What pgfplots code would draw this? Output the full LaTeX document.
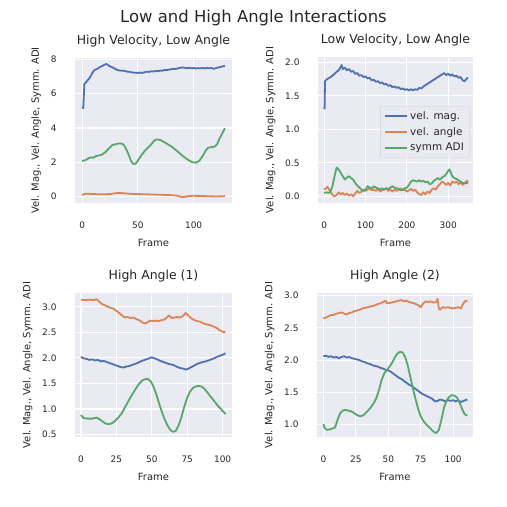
\documentclass[border=0pt]{standalone}
\usepackage{fontspec}
\setmainfont{DejaVu Sans}
\usepackage{pgfplots}
\pgfplotsset{compat=1.18}

\definecolor{sbblue}{HTML}{4C72B0}
\definecolor{sborange}{HTML}{DD8452}
\definecolor{sbgreen}{HTML}{55A868}
\definecolor{sbbg}{HTML}{EAEAF2}
\definecolor{sbtext}{HTML}{262626}

\pgfplotsset{
  sbpanel/.style={
    scale only axis, anchor=south west,
    axis background/.style={fill=sbbg},
    axis line style={draw=none},
    major tick length=0pt,
    grid=major,
    major grid style={white, line width=1.2bp},
    /pgf/number format/assume math mode=true,
    tick label style={font=\fontsize{9}{10}\selectfont, text=sbtext},
    xticklabel style={yshift=-15bp},
    yticklabel style={xshift=-15bp},
    label style={font=\fontsize{10}{12}\selectfont, text=sbtext},
    xlabel style={yshift=-4bp},
    ylabel shift=3bp,
    title style={font=\fontsize{12.5}{14}\selectfont, text=sbtext, yshift=1bp},
    xlabel={Frame},
    ylabel={Vel. Mag., Vel. Angle, Symm. ADI},
    every axis plot/.append style={line width=1.8bp, line join=round, no markers},
  },
  onedec/.style={yticklabel style={/pgf/number format/.cd, fixed, fixed zerofill, precision=1}},
}

\begin{document}
\begin{tikzpicture}
\path[use as bounding box] (0,0) rectangle (507bp,507bp);
\node[font=\fontsize{16.5}{18}\selectfont, text=sbtext] at (253.5bp,489bp) {Low and High Angle Interactions};

% ---------- High velocity, low angle ----------
\begin{axis}[sbpanel, at={(75bp,304bp)}, width=157bp, height=145bp,
  xmin=-6.4, xmax=134.4, ymin=-0.37, ymax=8.07,
  xtick={0,50,100}, ytick={0,2,4,6,8},
  title={High Velocity, Low Angle}]
\addplot[sbblue] coordinates {
(0,5.2) (1,5.15) (2,6.55) (4,6.7) (6,6.85) (8,7.05) (10,7.3) (12,7.4) (14,7.45) (16,7.55) (18,7.6) (20,7.68) (22,7.72) (24,7.62) (26,7.55) (28,7.5) (30,7.42) (32,7.36) (34,7.34) (36,7.33) (38,7.32) (40,7.28) (42,7.27) (44,7.24) (46,7.22) (48,7.21) (50,7.2) (52,7.22) (54,7.2) (56,7.24) (58,7.27) (60,7.26) (62,7.3) (64,7.28) (66,7.32) (68,7.3) (70,7.34) (72,7.33) (74,7.38) (76,7.36) (78,7.4) (80,7.42) (82,7.44) (84,7.43) (86,7.47) (88,7.5) (90,7.52) (92,7.5) (94,7.48) (96,7.5) (98,7.47) (100,7.49) (102,7.46) (104,7.48) (106,7.47) (108,7.49) (110,7.46) (112,7.5) (114,7.47) (116,7.49) (118,7.44) (120,7.48) (122,7.52) (124,7.55) (126,7.58) (128,7.62)};
\addplot[sborange] coordinates {
(0,0.1) (2,0.16) (5,0.17) (10,0.15) (15,0.14) (20,0.14) (25,0.15) (30,0.2) (33,0.22) (36,0.2) (40,0.18) (45,0.16) (50,0.15) (55,0.14) (60,0.13) (65,0.12) (70,0.11) (75,0.1) (80,0.09) (85,0.06) (88,0.0) (90,-0.03) (93,0.0) (96,0.04) (100,0.05) (105,0.04) (110,0.03) (115,0.02) (120,0.01) (125,0.02) (128,0.03)};
\addplot[sbgreen] coordinates {
(0,2.08) (3,2.12) (6,2.25) (8,2.28) (10,2.26) (12,2.35) (15,2.4) (18,2.45) (21,2.6) (24,2.8) (27,3.0) (30,3.05) (33,3.1) (36,3.08) (38,2.95) (40,2.7) (42,2.4) (44,2.05) (46,1.9) (48,1.92) (50,2.1) (53,2.4) (56,2.65) (59,2.85) (62,3.05) (65,3.28) (67,3.33) (70,3.3) (73,3.2) (76,3.08) (80,2.92) (84,2.72) (87,2.55) (90,2.38) (93,2.23) (96,2.1) (99,2.0) (102,1.98) (105,2.08) (108,2.35) (111,2.7) (113,2.85) (116,2.88) (119,2.92) (121,3.05) (123,3.35) (125,3.6) (127,3.85) (128,3.98)};
\end{axis}

% ---------- Low velocity, low angle ----------
\begin{axis}[sbpanel, onedec, at={(318bp,304bp)}, width=155bp, height=146bp,
  xmin=-15, xmax=360, ymin=-0.1, ymax=2.08,
  xtick={0,100,200,300}, ytick={0,0.5,1.0,1.5,2.0},
  title={Low Velocity, Low Angle},
  legend style={at={(0.981,0.664)}, anchor=north east, fill=sbbg, fill opacity=0.8, text opacity=1,
    draw=black!20, rounded corners=2bp, font=\fontsize{10.5}{12}\selectfont, text=sbtext,
    inner xsep=4bp, inner ysep=3bp, row sep=2.5bp},
  legend cell align=left,
  legend image code/.code={\draw[#1] (0bp,0bp) -- (22bp,0bp);}]
\addplot[sbblue] coordinates {
(0,1.3) (1,1.32) (2,1.72) (5,1.74) (10,1.76) (15,1.78) (20,1.8) (25,1.83) (30,1.86) (35,1.88) (40,1.93) (42,1.96) (45,1.9) (50,1.92) (55,1.88) (60,1.9) (65,1.86) (70,1.87) (75,1.83) (80,1.84) (85,1.8) (90,1.81) (95,1.78) (100,1.79) (105,1.76) (110,1.77) (115,1.73) (120,1.74) (125,1.71) (130,1.72) (135,1.69) (140,1.7) (145,1.67) (150,1.68) (155,1.65) (160,1.66) (165,1.63) (170,1.64) (175,1.62) (180,1.63) (185,1.6) (190,1.61) (195,1.59) (200,1.6) (205,1.58) (210,1.6) (215,1.58) (220,1.6) (225,1.59) (230,1.62) (235,1.61) (240,1.64) (245,1.66) (250,1.68) (255,1.7) (260,1.72) (265,1.74) (270,1.76) (275,1.78) (280,1.8) (285,1.82) (290,1.84) (295,1.81) (300,1.83) (305,1.8) (310,1.82) (315,1.79) (320,1.8) (325,1.77) (330,1.78) (335,1.73) (340,1.72) (345,1.76) (348,1.77)};
\addlegendentry{vel. mag.}
\addplot[sborange] coordinates {
(0,0.1) (4,0.12) (8,0.14) (12,0.1) (16,0.06) (20,0.02) (25,0.0) (30,0.02) (35,0.06) (40,0.03) (45,0.05) (50,0.02) (55,0.04) (60,0.01) (65,0.03) (70,0.0) (75,0.04) (80,0.08) (85,0.05) (90,0.07) (95,0.1) (100,0.08) (105,0.1) (110,0.12) (115,0.09) (120,0.1) (125,0.08) (130,0.11) (135,0.07) (140,0.09) (145,0.1) (150,0.12) (155,0.08) (160,0.1) (165,0.07) (170,0.1) (175,0.08) (180,0.1) (185,0.12) (190,0.09) (195,0.1) (200,0.07) (205,0.09) (210,0.11) (215,0.08) (220,0.1) (225,0.06) (230,0.03) (235,0.02) (240,0.06) (245,0.03) (250,0.07) (255,0.05) (260,0.1) (265,0.12) (270,0.1) (275,0.15) (280,0.18) (285,0.22) (290,0.2) (295,0.17) (300,0.2) (305,0.16) (310,0.22) (315,0.2) (320,0.22) (325,0.18) (330,0.21) (335,0.17) (340,0.2) (345,0.23) (348,0.21)};
\addlegendentry{vel. angle}
\addplot[sbgreen] coordinates {
(0,0.05) (5,0.06) (10,0.05) (15,0.07) (20,0.15) (25,0.3) (30,0.43) (35,0.4) (40,0.35) (45,0.3) (50,0.25) (55,0.28) (60,0.3) (65,0.27) (70,0.25) (75,0.2) (80,0.16) (85,0.13) (90,0.1) (95,0.08) (100,0.1) (105,0.15) (110,0.13) (115,0.12) (120,0.15) (125,0.13) (130,0.12) (135,0.1) (140,0.12) (145,0.1) (150,0.12) (155,0.11) (160,0.13) (165,0.15) (170,0.13) (175,0.12) (180,0.11) (185,0.09) (190,0.1) (195,0.12) (200,0.13) (205,0.17) (210,0.22) (215,0.24) (220,0.23) (225,0.22) (230,0.24) (235,0.22) (240,0.23) (245,0.21) (250,0.22) (255,0.18) (260,0.19) (265,0.23) (270,0.25) (275,0.27) (280,0.25) (285,0.28) (290,0.3) (295,0.33) (300,0.38) (303,0.4) (306,0.36) (310,0.3) (315,0.27) (320,0.26) (325,0.24) (330,0.22) (335,0.2) (340,0.19) (345,0.2) (348,0.2)};
\addlegendentry{symm ADI}
\end{axis}

% ---------- High angle (1) ----------
\begin{axis}[sbpanel, onedec, at={(75bp,70bp)}, width=157bp, height=144bp,
  xmin=-4.2, xmax=106.6, ymin=0.45, ymax=3.27,
  xtick={0,25,50,75,100}, ytick={0.5,1.0,1.5,2.0,2.5,3.0},
  title={High Angle (1)}]
\addplot[sbblue] coordinates {
(0,2.02) (2,1.99) (4,1.98) (6,1.96) (8,1.97) (10,1.95) (12,1.96) (14,1.93) (16,1.94) (18,1.92) (20,1.9) (22,1.88) (24,1.86) (26,1.84) (28,1.82) (30,1.81) (32,1.83) (34,1.84) (36,1.86) (38,1.88) (40,1.9) (42,1.93) (44,1.95) (46,1.97) (48,1.99) (50,2.01) (52,1.99) (54,1.97) (56,1.94) (58,1.92) (60,1.9) (62,1.88) (64,1.87) (66,1.85) (68,1.82) (70,1.8) (72,1.79) (74,1.77) (76,1.79) (78,1.82) (80,1.85) (82,1.88) (84,1.9) (86,1.92) (88,1.93) (90,1.95) (92,1.97) (94,1.99) (96,2.02) (98,2.04) (100,2.06) (102,2.09)};
\addplot[sborange] coordinates {
(0,3.14) (3,3.13) (6,3.14) (9,3.13) (11,3.15) (13,3.1) (15,3.05) (17,3.03) (19,3.0) (21,2.98) (23,2.96) (25,2.92) (27,2.88) (29,2.83) (31,2.79) (33,2.8) (35,2.78) (37,2.79) (39,2.76) (41,2.74) (43,2.7) (45,2.67) (47,2.7) (49,2.73) (51,2.72) (53,2.73) (55,2.72) (57,2.74) (59,2.75) (61,2.8) (62,2.83) (64,2.78) (66,2.79) (68,2.8) (70,2.79) (72,2.82) (74,2.88) (76,2.82) (78,2.77) (80,2.74) (82,2.72) (84,2.71) (86,2.68) (88,2.66) (90,2.65) (92,2.63) (94,2.61) (96,2.58) (98,2.54) (100,2.51) (102,2.5)};
\addplot[sbgreen] coordinates {
(0,0.88) (2,0.82) (5,0.81) (8,0.81) (11,0.83) (13,0.8) (15,0.76) (17,0.72) (19,0.7) (21,0.71) (23,0.74) (25,0.79) (27,0.85) (29,0.92) (31,1.03) (33,1.13) (35,1.23) (37,1.32) (39,1.41) (41,1.49) (43,1.55) (45,1.58) (47,1.59) (49,1.55) (51,1.45) (53,1.3) (55,1.12) (57,0.95) (59,0.8) (61,0.68) (63,0.59) (65,0.55) (67,0.57) (69,0.68) (71,0.85) (73,1.05) (75,1.22) (77,1.34) (79,1.41) (81,1.44) (83,1.45) (85,1.44) (87,1.4) (89,1.33) (91,1.26) (93,1.19) (95,1.12) (97,1.05) (99,0.99) (101,0.93) (102,0.9)};
\end{axis}

% ---------- High angle (2) ----------
\begin{axis}[sbpanel, onedec, at={(317bp,70bp)}, width=156bp, height=144bp,
  xmin=-4.9, xmax=115.3, ymin=0.81, ymax=3.04,
  xtick={0,25,50,75,100}, ytick={1.0,1.5,2.0,2.5,3.0},
  title={High Angle (2)}]
\addplot[sbblue] coordinates {
(0,2.06) (2,2.07) (4,2.05) (6,2.06) (8,2.04) (10,2.05) (12,2.03) (14,2.05) (16,2.06) (18,2.04) (20,2.05) (22,2.03) (24,2.02) (26,2.01) (28,2.0) (30,1.98) (32,1.97) (34,1.95) (36,1.94) (38,1.92) (40,1.91) (42,1.9) (44,1.88) (46,1.87) (48,1.85) (50,1.84) (52,1.82) (54,1.79) (56,1.76) (58,1.73) (60,1.71) (62,1.68) (64,1.65) (66,1.62) (68,1.6) (70,1.57) (72,1.54) (74,1.51) (76,1.48) (78,1.46) (80,1.44) (82,1.42) (84,1.4) (86,1.36) (88,1.37) (90,1.39) (92,1.38) (94,1.36) (96,1.38) (98,1.37) (100,1.38) (102,1.36) (104,1.38) (106,1.35) (108,1.37) (111,1.39)};
\addplot[sborange] coordinates {
(0,2.65) (2,2.66) (4,2.68) (6,2.7) (8,2.7) (10,2.72) (12,2.73) (14,2.74) (16,2.72) (18,2.71) (20,2.73) (22,2.74) (24,2.76) (26,2.77) (28,2.78) (30,2.8) (32,2.81) (34,2.82) (36,2.83) (38,2.84) (40,2.85) (42,2.87) (44,2.88) (46,2.9) (48,2.92) (49,2.88) (50,2.88) (52,2.89) (54,2.9) (56,2.91) (58,2.92) (60,2.93) (62,2.91) (64,2.92) (66,2.9) (68,2.89) (70,2.88) (72,2.86) (74,2.84) (75,2.82) (77,2.88) (79,2.91) (81,2.9) (83,2.91) (85,2.89) (87,2.9) (88,2.95) (89,2.8) (90,2.78) (92,2.82) (94,2.81) (96,2.82) (98,2.81) (100,2.8) (102,2.81) (104,2.82) (106,2.8) (107,2.85) (109,2.91) (111,2.92)};
\addplot[sbgreen] coordinates {
(0,1.01) (1,0.95) (3,0.92) (5,0.93) (7,0.94) (9,0.96) (11,1.08) (13,1.18) (15,1.22) (17,1.23) (19,1.22) (21,1.21) (23,1.19) (25,1.16) (27,1.14) (29,1.13) (31,1.15) (33,1.19) (35,1.23) (37,1.28) (39,1.34) (41,1.42) (43,1.55) (45,1.7) (47,1.8) (49,1.85) (51,1.9) (53,1.96) (55,2.04) (57,2.1) (59,2.13) (61,2.12) (63,2.05) (65,1.92) (67,1.74) (69,1.56) (71,1.4) (73,1.25) (75,1.13) (77,1.06) (79,1.01) (81,0.97) (83,0.93) (85,0.89) (87,0.87) (89,0.92) (91,1.08) (93,1.27) (95,1.38) (97,1.43) (99,1.46) (101,1.45) (103,1.42) (105,1.34) (107,1.24) (109,1.16) (111,1.14)};
\end{axis}
\end{tikzpicture}
\end{document}
